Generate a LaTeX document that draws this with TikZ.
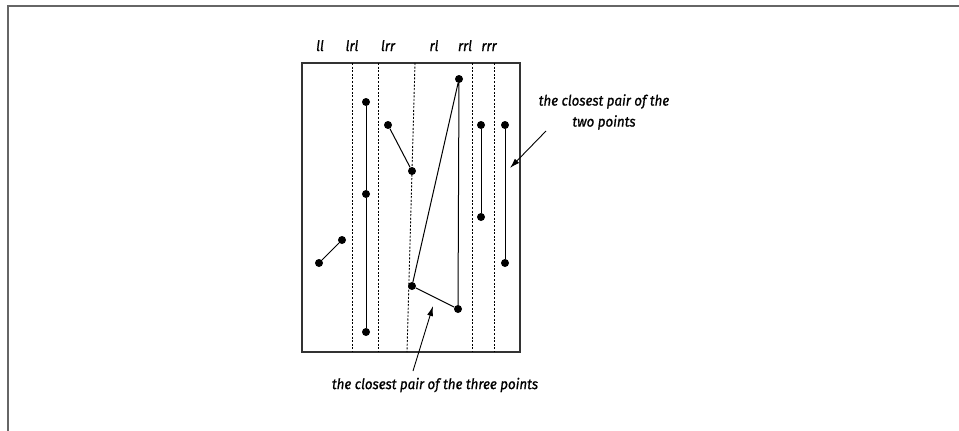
\documentclass[tikz,border=0pt]{standalone}
\usepackage{fontspec}
\newfontfamily\condfont[FakeStretch=0.92, FakeBold=0.9]{Fira Sans}
\usetikzlibrary{arrows.meta, positioning}

\begin{document}
\begin{tikzpicture}[x=1pt, y=-1pt, font=\condfont\itshape\fontsize{14.5}{21}\selectfont,
    pt/.style={circle, fill=black, inner sep=0pt, minimum size=8pt},
    sep/.style={dash pattern=on 2pt off 1.6pt, line width=0.9pt},
    pairline/.style={line width=1pt},
    callout/.style={-{Latex[length=10pt, width=6pt]}, line width=0.9pt}]
    \useasboundingbox (0,0) rectangle (959,431);
    % outer frame
    \draw[black!60, line width=2pt] (7.5,431) -- (7.5,5.5) -- (959,5.5);

    % the strip and its dividers
    \draw[black!80, line width=1.2pt] (302,63) rectangle (520,352);
    \draw[sep] (352,63) -- (352,352);
    \draw[sep] (378,63) -- (378,352);
    \draw[sep] (415,63) -- (407,352);
    \draw[sep] (472,63) -- (472,352);
    \draw[sep] (494,63) -- (494,352);

    \node[anchor=base] (ll)  at (320,51) {ll};
    \node[anchor=base] (lrl) at (352,51) {lrl};
    \node[anchor=base] (lrr) at (388,51) {lrr};
    \node[anchor=base] (rl)  at (434,51) {rl};
    \node[anchor=base] (rrl) at (465,51) {rrl};
    \node[anchor=base] (rrr) at (489,51) {rrr};

    % points
    \node[pt] (p1) at (319,263) {};
    \node[pt] (p2) at (342,240) {};
    \node[pt] (p3) at (366,102) {};
    \node[pt] (p4) at (366,194) {};
    \node[pt] (p5) at (366,332) {};
    \node[pt] (p6) at (388,125) {};
    \node[pt] (p7) at (412,171) {};
    \node[pt] (p8) at (412,286) {};
    \node[pt] (p9) at (459,79) {};
    \node[pt] (p10) at (458,309) {};
    \node[pt] (p11) at (481,125) {};
    \node[pt] (p12) at (481,217) {};
    \node[pt] (p13) at (505,125) {};
    \node[pt] (p14) at (505,263) {};

    \draw[pairline] (p1) -- (p2);
    \draw[pairline] (p3) -- (p4) -- (p5);
    \draw[pairline] (p6) -- (p7);
    \draw[pairline] (p8) -- (p9) -- (p10) -- (p8);
    \draw[pairline] (p11) -- (p12);
    \draw[pairline] (p13) -- (p14);

    % callouts
    \node[align=center] (twopts) at (604,112) {the closest pair of the\\two points};
    \node (threepts) at (435,385) {the closest pair of the three points};
    \coordinate (twofrom) at (546,131);
    \coordinate (twoto) at (510,168);
    \coordinate (threefrom) at (413,371);
    \coordinate (threeto) at (433,306);
    \draw[callout] (twofrom) -- (twoto);
    \draw[callout] (threefrom) -- (threeto);
\end{tikzpicture}
\end{document}
